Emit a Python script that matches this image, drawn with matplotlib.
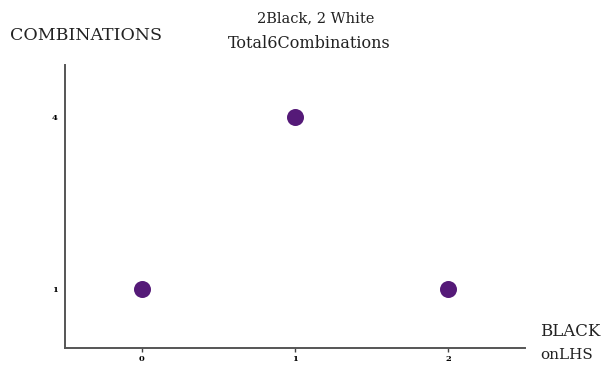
import matplotlib
matplotlib.use("Agg")
import matplotlib.pyplot as plt

# Number of ways to place black balls on the left-hand side
black_on_lhs = [0, 1, 2]
combinations = [1, 4, 1]
x_ticks = [0, 1, 2]
y_ticks = [1, 4]

plt.rcParams['font.family'] = ['DejaVu Serif']

fig = plt.figure(figsize=(6.15, 3.7), dpi=100)
ax = fig.add_axes([0.1057, 0.0595, 0.748, 0.765])

ax.scatter(black_on_lhs, combinations, s=150, color='#551a78', zorder=3, linewidths=0)

ax.set_xlim(-0.5, 2.5)
ax.set_ylim(-0.03, 4.9)
ax.set_xticks(x_ticks)
ax.set_yticks(y_ticks)
ax.tick_params(axis='x', length=3, width=1, color='#444444', labelsize=6, pad=2)
ax.tick_params(axis='y', length=0, labelsize=6, pad=5)
for lbl in ax.get_xticklabels() + ax.get_yticklabels():
    lbl.set_fontweight('bold')

for side in ('top', 'right'):
    ax.spines[side].set_visible(False)
for side in ('left', 'bottom'):
    ax.spines[side].set_linewidth(1.4)
    ax.spines[side].set_color('#555555')

txt = dict(color='#222222', va='center')
fig.text(10 / 615, 1 - 36 / 370, 'COMBINATIONS', ha='left', fontsize=12.5, **txt)
fig.text(316 / 615, 1 - 18 / 370, '2Black, 2 White', ha='center', fontsize=10.5, **txt)
fig.text(309 / 615, 1 - 44 / 370, 'Total6Combinations', ha='center', fontsize=11.5, **txt)
fig.text(540 / 615, 1 - 331 / 370, 'BLACK', ha='left', fontsize=12, **txt)
fig.text(540 / 615, 1 - 355 / 370, 'onLHS', ha='left', fontsize=11, **txt)

fig.savefig('out.png', dpi=100, facecolor='white')
